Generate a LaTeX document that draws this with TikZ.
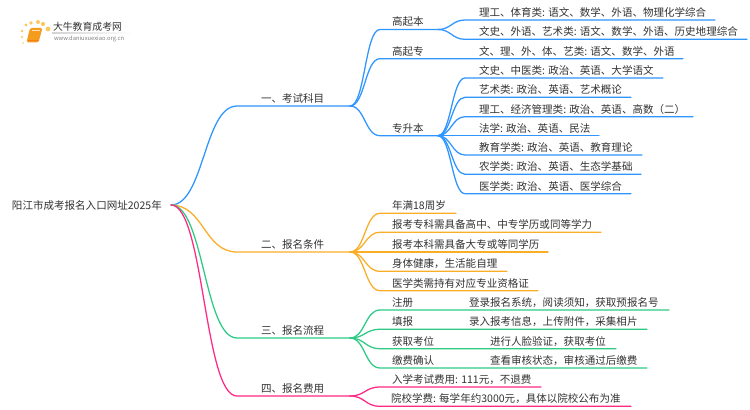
\documentclass[tikz,border=0pt]{standalone}
\usepackage{fontspec}
\setmainfont{Noto Sans CJK SC}
\definecolor{cblue}{HTML}{2F95FF}
\definecolor{corange}{HTML}{FAAE28}
\definecolor{cgreen}{HTML}{2ECB85}
\definecolor{cpink}{HTML}{FF2A85}
\definecolor{ctext}{HTML}{333333}
\definecolor{cdot}{HTML}{FBC860}
\definecolor{cbook}{HTML}{F49C1E}
\tikzset{
  lbl/.style={anchor=base west,inner sep=0pt,outer sep=0pt,text=ctext,font=\fontsize{7.9pt}{9pt}\selectfont},
  wire/.style={line width=0.95pt,line cap=round},
}
% \leaf{name}{colour}{parent point}{bend}{line start x}{line end x}{y}{text x}{text}
\newcommand{\leaf}[9]{%
  \coordinate (#1-s) at (#5,#7);
  \coordinate (#1-e) at (#6,#7);
  \node[lbl] (#1) at (#8,#7-3.6) {#9};
  \draw[wire,#2] (#3) .. controls +(#4,0) and +(-#4,0) .. (#1-s) -- (#1-e);
}
\begin{document}
\begin{tikzpicture}[x=0.75pt,y=-0.75pt]
\useasboundingbox[fill=white] (0,0) rectangle (750,410);
% logo
\shade[left color=gray!35,right color=white] (52,32.8) rectangle (133,33.6);
\foreach \a/\b/\r in {22/31/1.4,26/25/1.7,31/23/1.9,38/22/2,43/24/2.1,48/29/2.4,22/37/1.1,23/43/0.9}
  \fill[cdot] (\a,\b) circle[radius=\r];
\fill[cbook,rounded corners=1.2pt] (30,28) -- (42.5,28) -- (38.5,42.5) -- (26.5,42.5) -- cycle;
\draw[white!70!cbook,line width=0.5pt] (32,30.5) -- (40,30.5);
\draw[cbook!80!red,line width=0.5pt] (28,40.5) -- (38.5,40.5);
\node[lbl,font=\fontsize{7.4pt}{9pt}\selectfont] (logo1) at (53,30.5) {大牛教育成考网};
\node[lbl,text=gray,font=\fontsize{4.35pt}{6pt}\selectfont] (logo2) at (54,41) {www.daniuxuexiao.org.cn};
% root
\node[lbl] (root) at (12,209) {阳江市成考报名入口网址2025年};
\coordinate (r) at (171,205);
% main branches
\leaf{b1}{cblue}{r}{33}{237}{350}{106}{261}{一、考试科目}
\leaf{b2}{corange}{r}{33}{237}{350}{252}{261}{二、报名条件}
\leaf{b3}{cgreen}{r}{33}{237}{350}{338}{261}{三、报名流程}
\leaf{b4}{cpink}{r}{33}{237}{350}{396}{261}{四、报名费用}
% exam subjects
\leaf{g1}{cblue}{b1-e}{15}{380}{438}{29.5}{392}{高起本}
\leaf{g2}{cblue}{b1-e}{15}{380}{683}{58.7}{392}{高起专}
\leaf{g3}{cblue}{b1-e}{15}{380}{438}{135.7}{392}{专升本}
\node[lbl] (g2t) at (479,55.1) {文、理、外、体、艺类: 语文、数学、外语};
\leaf{a1}{cblue}{g1-e}{13}{465}{715}{20}{479}{理工、体育类: 语文、数学、外语、物理化学综合}
\leaf{a2}{cblue}{g1-e}{13}{465}{747}{39.3}{479}{文史、外语、艺术类: 语文、数学、外语、历史地理综合}
\leaf{c1}{cblue}{g3-e}{13}{465}{663}{78}{479}{文史、中医类: 政治、英语、大学语文}
\leaf{c2}{cblue}{g3-e}{13}{465}{631}{97.3}{479}{艺术类: 政治、英语、艺术概论}
\leaf{c3}{cblue}{g3-e}{13}{465}{693}{116.7}{479}{理工、经济管理类: 政治、英语、高数（二）}
\leaf{c4}{cblue}{g3-e}{13}{465}{599}{135.7}{479}{法学: 政治、英语、民法}
\leaf{c5}{cblue}{g3-e}{13}{465}{642}{155}{479}{教育学类: 政治、英语、教育理论}
\leaf{c6}{cblue}{g3-e}{13}{465}{641}{174.3}{479}{农学类: 政治、英语、生态学基础}
\leaf{c7}{cblue}{g3-e}{13}{465}{631}{193.7}{479}{医学类: 政治、英语、医学综合}
% conditions
\leaf{d1}{corange}{b2-e}{15}{380}{456}{213.3}{392}{年满18周岁}
\leaf{d2}{corange}{b2-e}{15}{380}{601}{232.3}{392}{报考专科需具备高中、中专学历或同等学力}
\leaf{d3}{corange}{b2-e}{15}{380}{548}{252}{392}{报考本科需具备大专或等同学历}
\leaf{d4}{corange}{b2-e}{15}{380}{507}{271.3}{392}{身体健康，生活能自理}
\leaf{d5}{corange}{b2-e}{15}{380}{538}{290.7}{392}{医学类需持有对应专业资格证}
% process
\leaf{e1}{cgreen}{b3-e}{15}{380}{669}{310}{392}{注册}
\leaf{e2}{cgreen}{b3-e}{15}{380}{647}{329.3}{392}{填报}
\leaf{e3}{cgreen}{b3-e}{15}{380}{616}{348.7}{392}{获取考位}
\leaf{e4}{cgreen}{b3-e}{15}{380}{647}{368}{392}{缴费确认}
\node[lbl] (e1t) at (469,306.4) {登录报名系统，阅读须知，获取预报名号};
\node[lbl] (e2t) at (469,325.7) {录入报考信息，上传附件，采集相片};
\node[lbl] (e3t) at (490,345.1) {进行人脸验证，获取考位};
\node[lbl] (e4t) at (490,364.4) {查看审核状态，审核通过后缴费};
% fees
\leaf{f1}{cpink}{b4-e}{15}{380}{541}{387}{392}{入学考试费用: 111元，不退费}
\leaf{f2}{cpink}{b4-e}{15}{380}{631}{406.3}{391}{院校学费: 每学年约3000元，具体以院校公布为准}
\end{tikzpicture}
\end{document}
